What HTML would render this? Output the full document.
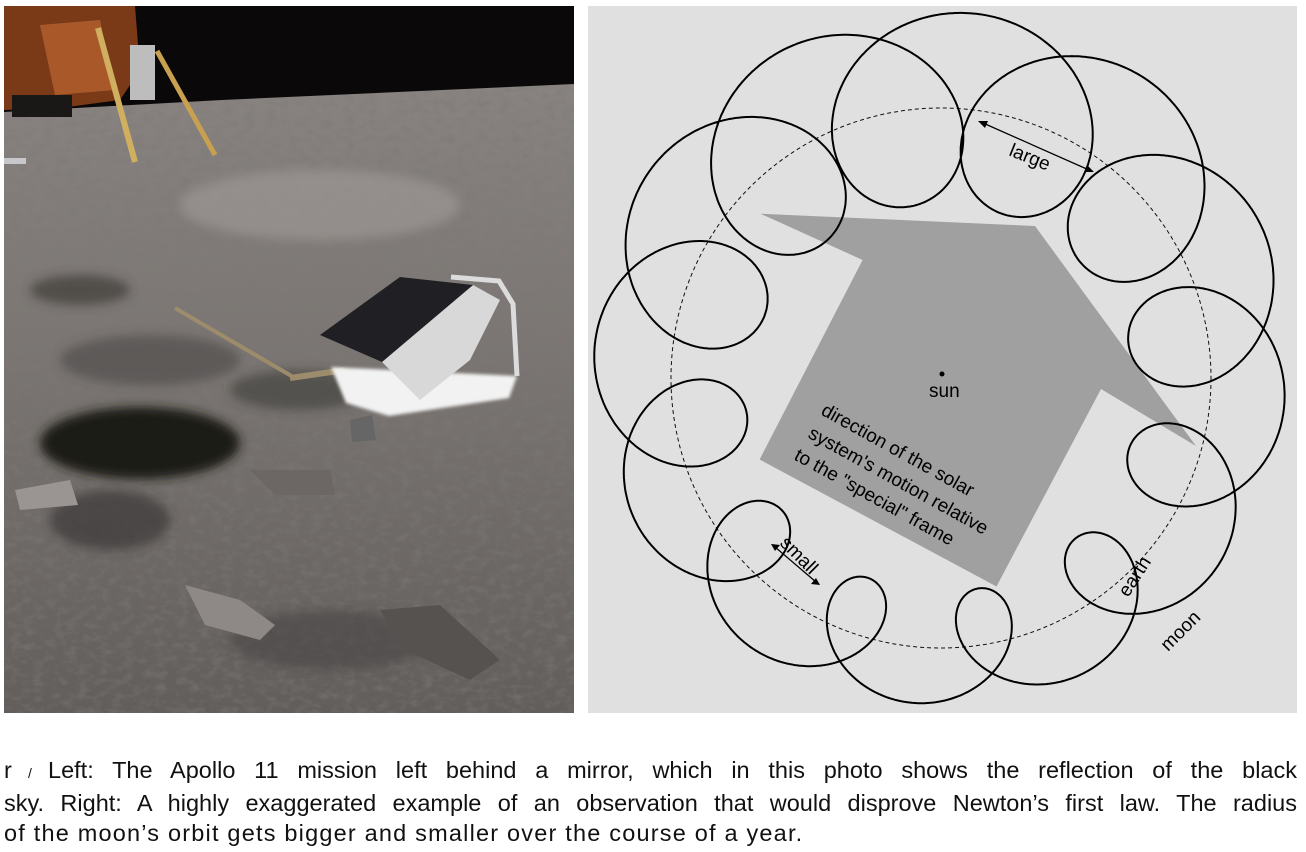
<!DOCTYPE html>
<html><head><meta charset="utf-8"><style>
body{margin:0;background:#fff;width:1306px;height:852px;overflow:hidden;font-family:"Liberation Sans",sans-serif}
svg{position:absolute;left:0;top:0}
#cap{position:absolute;left:4px;top:755px;width:1293px;font-size:23.5px;line-height:30px;color:#111}
#cap div{white-space:nowrap}
#cap .j{text-align:justify;text-align-last:justify;white-space:normal}
</style></head><body>
<svg width="1306" height="852" viewBox="0 0 1306 852">
<defs>
<linearGradient id="g1" x1="0" y1="0" x2="0" y2="1"><stop offset="0" stop-color="#8c8784"/><stop offset="0.5" stop-color="#7a7572"/><stop offset="1" stop-color="#625e5c"/></linearGradient>
<filter id="blur"><feGaussianBlur stdDeviation="5"/></filter>
<filter id="blur2"><feGaussianBlur stdDeviation="1.5"/></filter>
<filter id="noise" x="0" y="0" width="100%" height="100%">
<feTurbulence type="fractalNoise" baseFrequency="0.09 0.14" numOctaves="3" seed="4"/>
<feColorMatrix type="matrix" values="0 0 0 0 0.2  0 0 0 0 0.19  0 0 0 0 0.18  0 0 0 -2.2 1.25"/>
</filter>
<clipPath id="cp"><rect x="4" y="6" width="570" height="707"/></clipPath>
</defs>
<g clip-path="url(#cp)">
<rect x="4" y="6" width="570" height="707" fill="url(#g1)"/>
<rect x="4" y="6" width="570" height="707" filter="url(#noise)" opacity="0.55"/>
<g filter="url(#blur)">
<ellipse cx="140" cy="443" rx="100" ry="36" fill="#1c1a19"/>
<ellipse cx="110" cy="520" rx="60" ry="30" fill="#3a3736" opacity="0.7"/>
<ellipse cx="80" cy="290" rx="50" ry="15" fill="#3e3a39" opacity="0.7"/>
<ellipse cx="150" cy="360" rx="90" ry="25" fill="#4d4948" opacity="0.6"/>
<ellipse cx="300" cy="390" rx="70" ry="20" fill="#3e3a39" opacity="0.6"/>
<ellipse cx="330" cy="640" rx="100" ry="30" fill="#4a4645" opacity="0.6"/>
<ellipse cx="320" cy="205" rx="140" ry="35" fill="#a09b98" opacity="0.6"/>
</g>
</g>
<polygon points="4,6 574,6 574,84 222,100 4,112" fill="#0a0808"/>
<polygon points="4,6 135,6 140,70 120,100 60,108 4,110" fill="#7a3a18"/>
<polygon points="40,25 100,20 115,90 55,95" fill="#b5622e" opacity="0.8"/>
<rect x="12" y="95" width="60" height="22" fill="#1a1817"/>
<rect x="130" y="45" width="25" height="55" fill="#bdbdbd"/>
<line x1="98" y1="28" x2="135" y2="162" stroke="#d0b060" stroke-width="6"/>
<line x1="157" y1="51" x2="215" y2="155" stroke="#c8a050" stroke-width="5"/>
<rect x="4" y="158" width="22" height="6" fill="#c8c8cc"/>
<line x1="175" y1="308" x2="295" y2="378" stroke="#9c8c6c" stroke-width="4"/>
<line x1="290" y1="378" x2="345" y2="370" stroke="#9c8c6c" stroke-width="6"/>
<polygon points="331,367 517,376 509,398 389,416 346,403" fill="#f2f2f2" filter="url(#blur2)"/>
<polygon points="382,362 473,285 500,300 470,360 420,400" fill="#d8d8d8"/>
<polygon points="320,335 400,277 473,285 382,362" fill="#202024"/>
<polyline points="451,277 499,281 513,304 517,376" fill="none" stroke="#dcdcdc" stroke-width="5"/>
<polygon points="350,420 372,415 376,440 352,442" fill="#666"/>
<polygon points="15,490 70,480 78,505 20,510" fill="#9a9592"/>
<polygon points="185,585 240,600 275,625 260,640 205,625" fill="#8e8986"/>
<polygon points="380,610 440,605 500,660 470,680 405,650" fill="#56524f"/>
<polygon points="250,470 330,470 335,495 275,495" fill="#6c6764"/>
<rect x="588" y="6" width="709" height="707" fill="#e0e0e0"/>
<polygon points="760.5,213.7 1035,226 1196,446 1101,389 996.5,586.5 759.6,459.5 862.6,260" fill="#a0a0a0"/>
<circle cx="941" cy="378" r="270" fill="none" stroke="#111" stroke-width="1" stroke-dasharray="4,3"/>
<path id="moonpath" d="" fill="none" stroke="#000" stroke-width="2"/>
<circle cx="942" cy="374" r="2.5" fill="#000"/>
<g font-family="Liberation Sans, sans-serif" font-size="19" fill="#000">
<text x="929" y="397">sun</text>
<text transform="translate(820,414) rotate(29)">direction of the solar</text>
<text transform="translate(807,437) rotate(29)">system's motion relative</text>
<text transform="translate(793,459) rotate(29)">to the "special" frame</text>
<text transform="translate(1008,155) rotate(22)">large</text>
<text transform="translate(779,544) rotate(45)">small</text>
<text transform="translate(1128,598) rotate(-57)">earth</text>
<text transform="translate(1168,652) rotate(-45)">moon</text>
</g>
<g stroke="#000" stroke-width="1.3" fill="#000">
<line x1="983" y1="123" x2="1089" y2="170"/>
<polygon points="978,121 988,121 985,128" stroke="none"/>
<polygon points="1094,172 1084,172 1087,165" stroke="none"/>
<line x1="775" y1="547" x2="816" y2="582"/>
<polygon points="771,544 780,545 775,551" stroke="none"/>
<polygon points="820,585 811,584 816,578" stroke="none"/>
</g>
</svg>
<div id="cap">
<div class="j">r<span style="font-size:14px">&nbsp;/&nbsp;</span>Left: The Apollo 11 mission left behind a mirror, which in this photo shows the reflection of the black</div>
<div class="j">sky. Right: A highly exaggerated example of an observation that would disprove Newton’s first law. The radius</div>
<div style="letter-spacing:1.2px">of the moon’s orbit gets bigger and smaller over the course of a year.</div>
</div>
<script>
(function(){
var cx=941,cy=378,R=270,k=13,p=300*Math.PI/180,d="";
for(var i=0;i<=4000;i++){
 var t=i/4000*2*Math.PI;
 var a=76-20*Math.sin(t);
 var x=cx+R*Math.cos(t)+a*Math.cos(k*t+p);
 var y=cy+R*Math.sin(t)+a*Math.sin(k*t+p);
 d+=(i?"L":"M")+x.toFixed(1)+","+y.toFixed(1);
}
document.getElementById("moonpath").setAttribute("d",d+"Z");
})();
</script>
</body></html>
